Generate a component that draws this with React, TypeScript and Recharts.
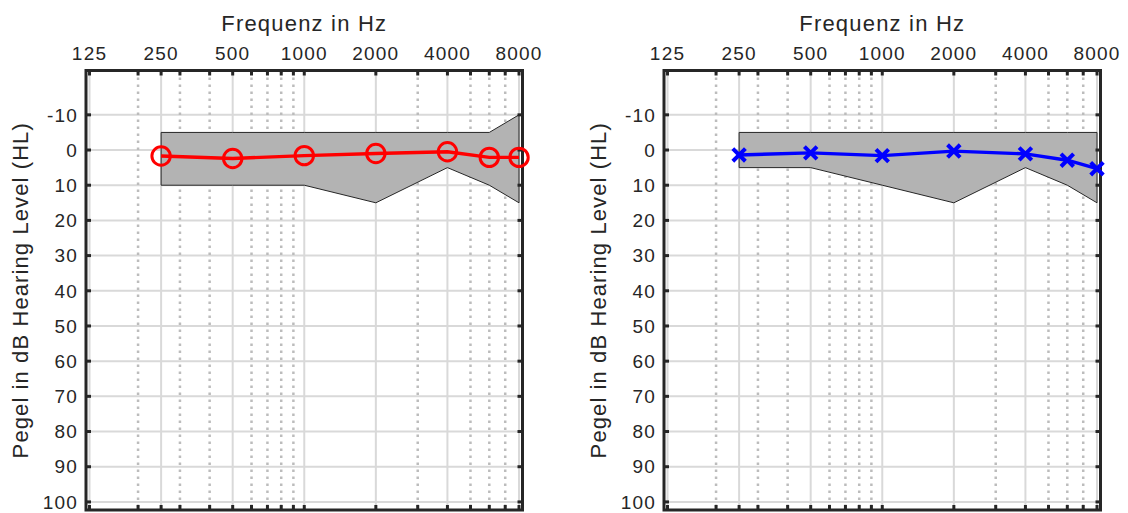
import React from 'react';
import {
  ComposedChart,
  XAxis,
  YAxis,
  CartesianGrid,
  Area,
  Line,
  ReferenceArea,
  ReferenceLine,
} from 'recharts';

const FONT = '"Liberation Sans", Arial, Helvetica, sans-serif';
const INK = '#262626';

// Audiometric test frequencies (Hz)
const frequencies = [250, 500, 1000, 2000, 4000, 6000, 8000];

// Normal-hearing band, upper and lower edge in dB HL
const leftBandTop = [-5, -5, -5, -5, -5, -5, -10];
const leftBandBottom = [10, 10, 10, 15, 5, 10, 15];
const rightBandTop = [-5, -5, -5, -5, -5, -5, -5];
const rightBandBottom = [5, 5, 10, 15, 5, 10, 15];

// Measured hearing thresholds (dB HL)
const leftThresholds = [1.7, 2.4, 1.6, 1.0, 0.5, 2.1, 2.1];
const rightThresholds = [1.4, 0.8, 1.6, 0.3, 1.1, 2.9, 5.3];

// Axis ticks and grid
const freqTickLabels = [125, 250, 500, 1000, 2000, 4000, 8000];
const majorFreqLines = [125, 250, 500, 1000, 2000, 4000, 8000];
const minorFreqLines = [200, 300, 400, 600, 700, 800, 900, 3000, 5000, 6000, 7000];
const levelTicks = [-10, 0, 10, 20, 30, 40, 50, 60, 70, 80, 90, 100];

const xDomain: [number, number] = [120.8, 8275];
const yDomain: [number, number] = [-22.6, 102.3];

const CHART_W = 550;
const CHART_H = 513;
const TICK_LEN = 5;

type Row = { freq: number; band: [number, number]; level: number };

const buildRows = (top: number[], bottom: number[], levels: number[]): Row[] =>
  frequencies.map((f, i) => ({ freq: f, band: [bottom[i], top[i]], level: levels[i] }));

const leftRows = buildRows(leftBandTop, leftBandBottom, leftThresholds);
const rightRows = buildRows(rightBandTop, rightBandBottom, rightThresholds);

// Inward tick marks on the top and bottom edges of the box
const xTickShape = (p: any) => {
  const top = Math.min(p.y1, p.y2);
  const bottom = Math.max(p.y1, p.y2);
  return (
    <g>
      <line x1={p.x1} x2={p.x1} y1={top} y2={top + TICK_LEN} stroke={INK} strokeWidth={3} />
      <line x1={p.x1} x2={p.x1} y1={bottom} y2={bottom - TICK_LEN} stroke={INK} strokeWidth={3} />
    </g>
  );
};

// Inward tick marks on the left and right edges of the box
const yTickShape = (p: any) => {
  const left = Math.min(p.x1, p.x2);
  const right = Math.max(p.x1, p.x2);
  return (
    <g>
      <line x1={left} x2={left + TICK_LEN} y1={p.y1} y2={p.y1} stroke={INK} strokeWidth={3} />
      <line x1={right} x2={right - TICK_LEN} y1={p.y1} y2={p.y1} stroke={INK} strokeWidth={3} />
    </g>
  );
};

const CircleDot = (color: string) => (p: any) =>
  (
    <circle
      key={`c-${p.index}`}
      cx={p.cx}
      cy={p.cy}
      r={9.2}
      fill="none"
      stroke={color}
      strokeWidth={3}
    />
  );

const CrossDot = (color: string) => (p: any) => {
  const s = 6.3;
  return (
    <path
      key={`x-${p.index}`}
      d={`M${p.cx - s},${p.cy - s}L${p.cx + s},${p.cy + s}M${p.cx - s},${p.cy + s}L${p.cx + s},${p.cy - s}`}
      stroke={color}
      strokeWidth={4}
      fill="none"
    />
  );
};

const xTitle = (props: any) => {
  const vb = props.viewBox;
  return (
    <text
      x={vb.x + vb.width / 2}
      y={31}
      textAnchor="middle"
      fontFamily={FONT}
      fontSize={22}
      letterSpacing={1.2}
      fill={INK}
    >
      Frequenz in Hz
    </text>
  );
};

const yTitle = (props: any) => {
  const vb = props.viewBox;
  const x = vb.x + 28;
  const y = vb.y + vb.height / 2;
  return (
    <text
      x={x}
      y={y}
      transform={`rotate(-90, ${x}, ${y})`}
      textAnchor="middle"
      fontFamily={FONT}
      fontSize={22}
      letterSpacing={1.1}
      fill={INK}
    >
      Pegel in dB Hearing Level (HL)
    </text>
  );
};

type AudiogramProps = {
  rows: Row[];
  top: number[];
  bottom: number[];
  color: string;
  marker: 'circle' | 'cross';
};

function Audiogram({ rows, top, bottom, color, marker }: AudiogramProps) {
  const first = 0;
  const last = frequencies.length - 1;
  return (
    <ComposedChart
      width={CHART_W}
      height={CHART_H}
      data={rows}
      margin={{ top: 0, right: 27.5, bottom: 3, left: 0 }}
    >
      <CartesianGrid
        verticalValues={majorFreqLines}
        horizontalValues={levelTicks}
        stroke="#d9d9d9"
        strokeWidth={2}
      />
      <CartesianGrid
        verticalValues={minorFreqLines}
        horizontal={false}
        stroke="#bcbcbc"
        strokeWidth={2.5}
        strokeDasharray="2.5 4.5"
      />
      <XAxis
        type="number"
        dataKey="freq"
        scale="log"
        domain={xDomain}
        ticks={freqTickLabels}
        interval={0}
        orientation="top"
        height={70.5}
        axisLine={false}
        tickLine={false}
        tickSize={0}
        tickMargin={11}
        tick={{ fill: INK, fontSize: 19, fontFamily: FONT, letterSpacing: 1.2 }}
        label={{ content: xTitle }}
      />
      <YAxis
        type="number"
        domain={yDomain}
        reversed
        ticks={levelTicks}
        interval={0}
        width={86}
        axisLine={false}
        tickLine={false}
        tickSize={0}
        tickMargin={8}
        tick={{ fill: INK, fontSize: 19, fontFamily: FONT, letterSpacing: 1.2 }}
        label={{ content: yTitle }}
      />
      <Area
        dataKey="band"
        type="linear"
        fill="#b3b3b3"
        fillOpacity={1}
        stroke={INK}
        strokeWidth={1}
        dot={false}
        activeDot={false}
        isAnimationActive={false}
      />
      <ReferenceLine
        segment={[
          { x: frequencies[first], y: top[first] },
          { x: frequencies[first], y: bottom[first] },
        ]}
        stroke={INK}
        strokeWidth={1}
      />
      <ReferenceLine
        segment={[
          { x: frequencies[last], y: top[last] },
          { x: frequencies[last], y: bottom[last] },
        ]}
        stroke={INK}
        strokeWidth={1}
      />
      <Line
        dataKey="level"
        type="linear"
        stroke={color}
        strokeWidth={3.4}
        dot={marker === 'circle' ? CircleDot(color) : CrossDot(color)}
        activeDot={false}
        isAnimationActive={false}
      />
      {[...majorFreqLines, ...minorFreqLines].map((f) => (
        <ReferenceLine key={`xt-${f}`} x={f} stroke="none" shape={xTickShape} />
      ))}
      {levelTicks.map((v) => (
        <ReferenceLine key={`yt-${v}`} y={v} stroke="none" shape={yTickShape} />
      ))}
      <ReferenceArea
        x1={xDomain[0]}
        x2={xDomain[1]}
        y1={yDomain[0]}
        y2={yDomain[1]}
        fill="none"
        fillOpacity={0}
        stroke={INK}
        strokeWidth={3}
        ifOverflow="visible"
      />
    </ComposedChart>
  );
}

export default function App() {
  return (
    <div
      style={{
        position: 'absolute',
        left: 0,
        top: 0,
        width: 1128,
        height: 513,
        background: '#ffffff',
        overflow: 'hidden',
      }}
    >
      <div style={{ position: 'absolute', left: 0, top: 0 }}>
        <Audiogram
          rows={leftRows}
          top={leftBandTop}
          bottom={leftBandBottom}
          color="#ff0000"
          marker="circle"
        />
      </div>
      <div style={{ position: 'absolute', left: 578, top: 0 }}>
        <Audiogram
          rows={rightRows}
          top={rightBandTop}
          bottom={rightBandBottom}
          color="#0000ff"
          marker="cross"
        />
      </div>
    </div>
  );
}
